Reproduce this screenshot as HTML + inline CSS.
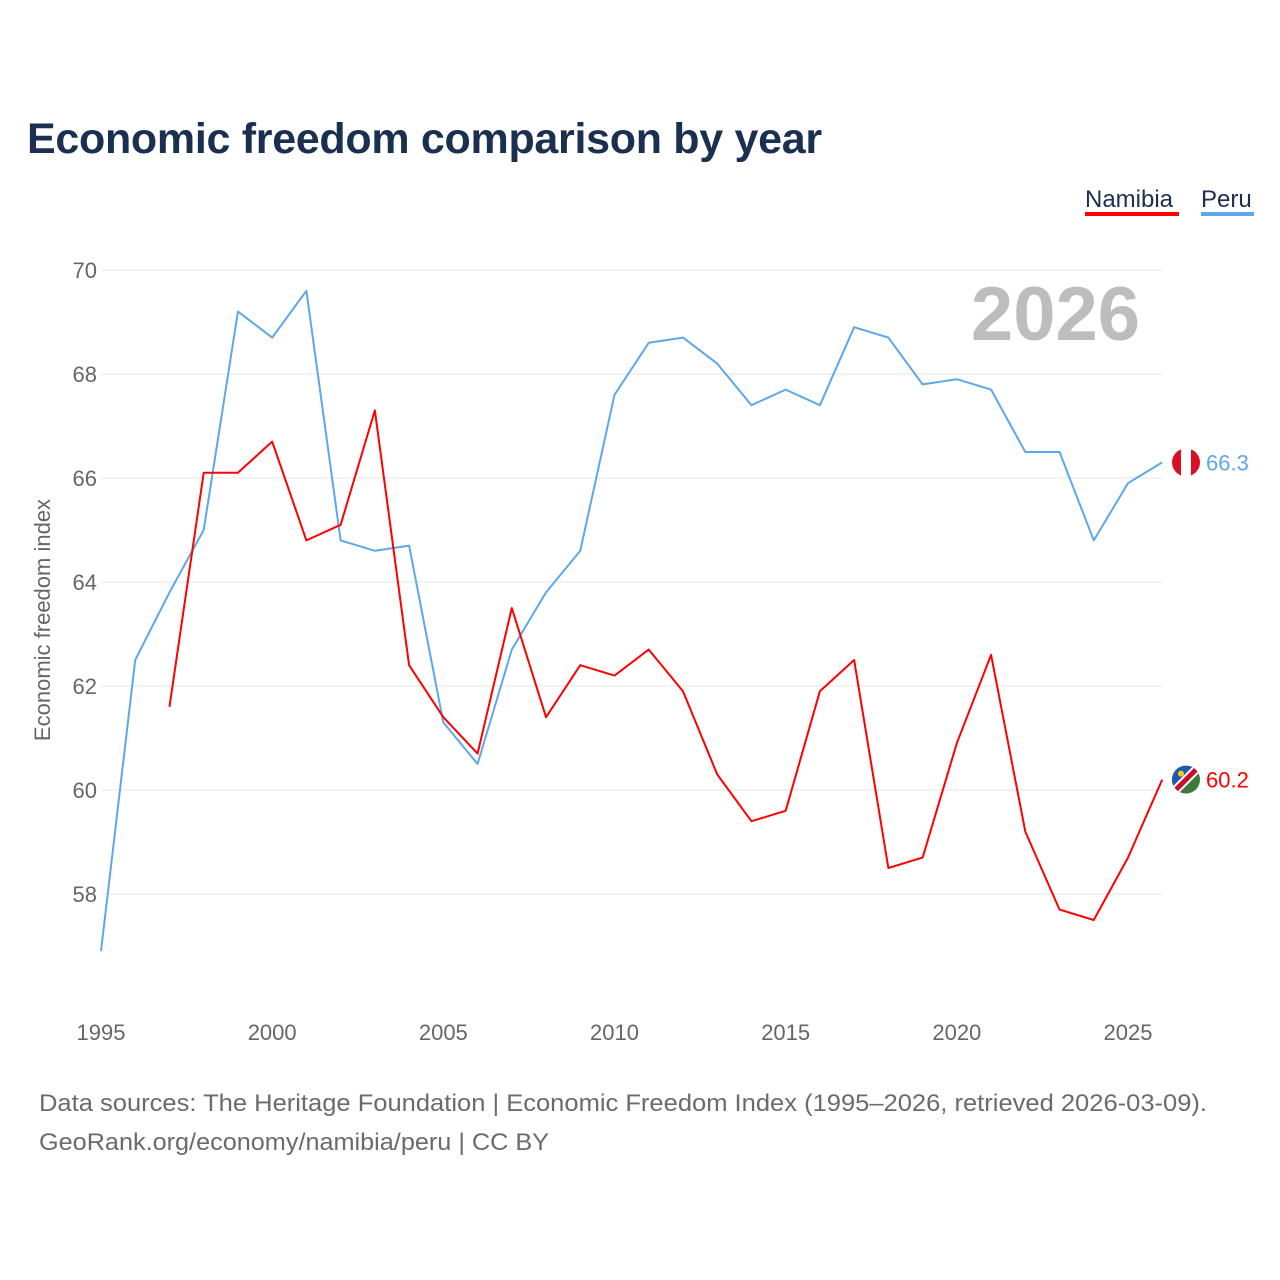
<!DOCTYPE html>
<html><head><meta charset="utf-8">
<style>
body{margin:0;background:#fff;font-family:"Liberation Sans",sans-serif;}
#wrap{position:relative;width:1280px;height:1280px;overflow:hidden;}
</style></head>
<body><div id="wrap">
<svg id="chart" width="1280" height="1280"></svg>
</div>
<script>
const years=[1995,1996,1997,1998,1999,2000,2001,2002,2003,2004,2005,2006,2007,2008,2009,2010,2011,2012,2013,2014,2015,2016,2017,2018,2019,2020,2021,2022,2023,2024,2025,2026];
const peru=[56.9,62.5,63.8,65.0,69.2,68.7,69.6,64.8,64.6,64.7,61.3,60.5,62.7,63.8,64.6,67.6,68.6,68.7,68.2,67.4,67.7,67.4,68.9,68.7,67.8,67.9,67.7,66.5,66.5,64.8,65.9,66.3];
const namibia=[null,null,61.6,66.1,66.1,66.7,64.8,65.1,67.3,62.4,61.4,60.7,63.5,61.4,62.4,62.2,62.7,61.9,60.3,59.4,59.6,61.9,62.5,58.5,58.7,60.9,62.6,59.2,57.7,57.5,58.7,60.2];
const yTicks=[58,60,62,64,66,68,70];
const xTicks=[1995,2000,2005,2010,2015,2020,2025];
const NS='http://www.w3.org/2000/svg';
const svg=document.getElementById('chart');
const x=v=>101+(v-1995)*(1128-101)/30;
const y=v=>270+(70-v)*52;
function mk(tag,attrs,parent){const e=document.createElementNS(NS,tag);for(const k in attrs)e.setAttribute(k,attrs[k]);(parent||svg).appendChild(e);return e;}
function txt(s,attrs){const e=mk('text',attrs);e.textContent=s;return e;}
let t;
t=txt('Economic freedom comparison by year',{x:27,y:153,'font-size':43,'font-weight':'bold',fill:'#1b2f50','letter-spacing':'-0.3'});


yTicks.forEach(v=>{
  const l=mk('line',{x1:101,x2:1162,y1:y(v),y2:y(v),stroke:'#e6e6e6','stroke-width':1});
  
  
  const tt=txt(String(v),{x:97,y:y(v)+8,'font-size':22,fill:'#666','text-anchor':'end'});
  
  
});
xTicks.forEach(v=>{
  const tt=txt(String(v),{x:x(v),y:1040,'font-size':22,fill:'#666','text-anchor':'middle'});
  
  
});
t=txt('Economic freedom index',{x:0,y:0,'font-size':22,fill:'#666','text-anchor':'middle',transform:'translate(50,620) rotate(-90)'});


t=txt('2026',{x:1140,y:340,'font-size':76,'font-weight':'bold',fill:'#bdbdbd','text-anchor':'end'});


function line(vals,color,name){
  let d='';let pen=false;
  vals.forEach((v,i)=>{if(v==null){pen=false;return;}d+=(pen?'L':'M')+x(years[i])+','+y(v);pen=true;});
  const p=mk('path',{d:d,fill:'none',stroke:color,'stroke-width':2,'stroke-linejoin':'round'});
  
  
}
line(peru,'#5ea8ea','peru-line');
line(namibia,'#ff0000','namibia-line');
const py=y(peru[peru.length-1]), ny=y(namibia[namibia.length-1]);
let g=mk('g',{});


mk('clipPath',{id:'cp1'},g);mk('circle',{cx:1186,cy:py,r:14},g.lastChild);
mk('rect',{x:1172,y:py-14,width:28,height:28,fill:'#fff','clip-path':'url(#cp1)'},g);
mk('rect',{x:1172,y:py-14,width:9,height:28,fill:'#d91023','clip-path':'url(#cp1)'},g);
mk('rect',{x:1191,y:py-14,width:9,height:28,fill:'#d91023','clip-path':'url(#cp1)'},g);
g=mk('g',{});


mk('clipPath',{id:'cp2'},g);mk('circle',{cx:1186,cy:ny,r:14},g.lastChild);
mk('rect',{x:1172,y:ny-14,width:28,height:28,fill:'#3c7a3a','clip-path':'url(#cp2)'},g);
mk('polygon',{points:`1172,${ny-14} 1200,${ny-14} 1172,${ny+14}`,fill:'#2057b0','clip-path':'url(#cp2)'},g);
mk('line',{x1:1200,y1:ny-14,x2:1172,y2:ny+14,stroke:'#fff','stroke-width':9,'clip-path':'url(#cp2)'},g);
mk('line',{x1:1200,y1:ny-14,x2:1172,y2:ny+14,stroke:'#c8102e','stroke-width':5,'clip-path':'url(#cp2)'},g);
mk('circle',{cx:1181,cy:ny-6,r:3,fill:'#ffce00'},g);
t=txt(String(peru[peru.length-1]),{x:1206,y:py+8,'font-size':22,fill:'#5ea8ea'});


t=txt(String(namibia[namibia.length-1]),{x:1206,y:ny+8,'font-size':22,fill:'#ff0000'});


t=txt('Namibia',{x:1085,y:207,'font-size':24,fill:'#1b2f50'});


t=mk('rect',{x:1085,y:212,width:94,height:4,fill:'#ff0000'});


t=txt('Peru',{x:1201,y:207,'font-size':24,fill:'#1b2f50'});


t=mk('rect',{x:1201,y:212,width:53,height:4,fill:'#5ea8ea'});


t=txt('Data sources: The Heritage Foundation | Economic Freedom Index (1995–2026, retrieved 2026-03-09).',{x:39,y:1111,'font-size':24,fill:'#6b6b6b',textLength:1168,lengthAdjust:'spacingAndGlyphs'});


t=txt('GeoRank.org/economy/namibia/peru | CC BY',{x:39,y:1150,'font-size':24,fill:'#6b6b6b',textLength:510,lengthAdjust:'spacingAndGlyphs'});


</script>
</body></html>
